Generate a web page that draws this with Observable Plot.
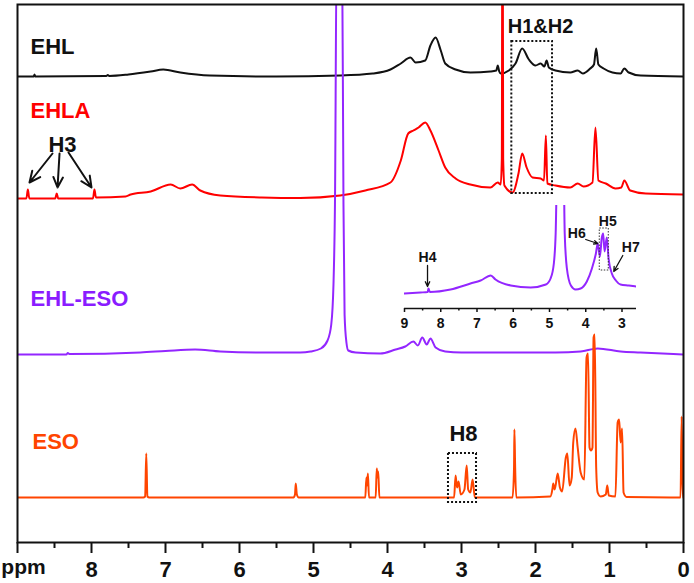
<!DOCTYPE html>
<html>
<head>
<meta charset="utf-8">
<script src="https://cdn.jsdelivr.net/npm/d3@7"></script>
<script src="https://cdn.jsdelivr.net/npm/@observablehq/plot@0.6"></script>
<style>
  body { margin: 0; background: #fff; }
  #wrap { position: relative; width: 694px; height: 583px; }
  #wrap svg { display: block; }
</style>
</head>
<body>
<div id="wrap"></div>
<script>
// ---- data: [ppm, intensity above the series baseline] ----
const seriesNames = ["EHL", "EHLA", "EHL-ESO", "ESO"];
const seriesColors = ["#111111", "#ff0000", "#9326ff", "#ff4500"];
const seriesOffsets = [466, 344, 188, 45];

const ehl = [[9,0],[8.78,0],[8.77,2],[8.76,0],[7.8,0.5],[7.78,1.5],[7.76,0.5],[7.5,2],[7.2,5],[7.03,7],[6.8,4],[6.4,1],[5.5,0],[4.64,1],[4.2,3],[3.96,7],[3.82,13],[3.69,19],[3.62,14],[3.49,16],[3.42,31],[3.35,39],[3.28,26],[3.22,13],[3.08,7],[2.88,4],[2.61,5],[2.53,6],[2.51,11],[2.49,5],[2.47,3],[2.36,6],[2.27,13],[2.18,28],[2.09,17],[2.0,11],[1.93,13],[1.88,10],[1.85,16],[1.82,9],[1.73,6],[1.53,4],[1.43,6],[1.36,3],[1.26,8],[1.21,12],[1.18,28],[1.15,12],[1.08,8],[0.96,4],[0.85,3],[0.8,8],[0.74,4],[0.58,1],[0,0]];

const ehla = [[9,0],[8.88,0],[8.86,9],[8.84,0],[8.49,0],[8.47,5],[8.45,0],[7.98,0],[7.96,9],[7.94,1],[7.54,2],[7.47,4],[7.2,7],[6.93,14],[6.8,10],[6.64,14],[6.53,8],[6.26,3],[5.7,1],[5.18,0.5],[4.64,3],[4.3,8],[3.96,16],[3.82,38],[3.72,65],[3.65,68],[3.58,71],[3.49,76],[3.42,68],[3.31,48],[3.22,31],[3.08,20],[2.88,14],[2.61,11],[2.51,16],[2.47,14],[2.455,40],[2.446,400],[2.437,40],[2.42,13],[2.31,6],[2.23,25],[2.18,45],[2.12,31],[2.04,21],[1.93,20],[1.885,18],[1.86,63],[1.84,15],[1.73,13],[1.53,11],[1.43,15],[1.35,12],[1.23,16],[1.19,71],[1.15,18],[1.05,15],[0.92,10],[0.84,11],[0.8,18],[0.72,8],[0.51,5],[0,4]];

const ehlEso = [[9,0],[8.34,0],[8.32,1.5],[8.30,0.5],[7.34,2],[7.0,3.5],[6.6,5],[6.26,3],[5.72,2],[5.18,2],[5.04,3],[4.9,6],[4.81,14],[4.76,30],[4.73,70],[4.71,150],[4.685,420],[4.615,420],[4.595,150],[4.58,40],[4.555,12],[4.53,4],[4.43,2],[4.1,1],[3.89,5],[3.76,8],[3.65,13],[3.59,9],[3.53,17],[3.47,10],[3.42,16],[3.35,7],[3.22,3],[3.0,2],[2.47,2],[2.07,2],[1.73,2],[1.39,3],[1.16,6],[0.85,3],[0.58,2],[0,0]];

const eso = [[9,0],[7.3,0],[7.275,1],[7.26,44],[7.245,1],[7.22,0],[5.27,0],[5.25,3],[5.24,14],[5.225,3],[5.2,0],[4.30,0],[4.285,20],[4.275,12],[4.265,24],[4.25,0],[4.16,0],[4.145,29],[4.135,20],[4.125,26],[4.11,0],[3.1,0],[3.08,22],[3.06,10],[3.04,16],[3.01,3],[2.96,8],[2.93,32],[2.91,8],[2.88,5],[2.85,18],[2.82,0],[2.31,0],[2.29,30],[2.285,68],[2.275,30],[2.26,0],[1.8,1],[1.77,9],[1.76,14],[1.74,8],[1.70,24],[1.67,10],[1.64,6],[1.59,40],[1.57,44],[1.54,12],[1.51,20],[1.49,55],[1.46,69],[1.43,50],[1.39,25],[1.34,18],[1.31,140],[1.29,144],[1.27,50],[1.25,47],[1.23,50],[1.215,160],[1.20,163],[1.18,30],[1.16,5],[1.12,1],[1.05,3],[1.03,12],[1.01,2],[0.92,1],[0.89,75],[0.87,78],[0.85,55],[0.83,69],[0.81,5],[0.77,0.5],[0.04,0],[0.025,81],[0.01,0],[0,0]];

// inset (EHL-ESO, expanded)
const insetSpectrum = [[9.0,0],[8.56,1],[8.36,1.5],[8.34,5],[8.30,1.5],[7.73,4],[7.18,10],[6.90,13],[6.62,18],[6.49,14],[6.07,8],[5.52,6],[5.10,9],[4.97,15],[4.88,30],[4.83,60],[4.79,120],[4.61,120],[4.58,60],[4.52,25],[4.41,8],[4.28,4],[4.14,5],[3.97,12],[3.83,25],[3.72,40],[3.67,50],[3.61,37],[3.56,55],[3.52,60],[3.48,42],[3.42,56],[3.37,35],[3.28,20],[3.17,13],[3.04,9],[2.81,8],[2.6,7]];

const mainTicks = [0,1,2,3,4,5,6,7,8,9];
const mainMinorTicks = [0.5,1.5,2.5,3.5,4.5,5.5,6.5,7.5,8.5];
const insetTicks = [3,4,5,6,7,8,9];
const insetMinorTicks = [3.5,4.5,5.5,6.5,7.5,8.5];

const spectra = [ehl, ehla, ehlEso, eso];

// ---- build table ----
const rows = spectra.flatMap((s, i) => s.map(([ppm, v]) => ({ppm, y: seriesOffsets[i] + v, series: seriesNames[i]})));

const FONT = "'Liberation Sans', Arial, Helvetica, sans-serif";
const bold = {fontFamily: FONT, fontWeight: "bold"};

const labels = [
  {text: "EHL", x: 8.824, y: 489, c: seriesColors[0], anchor: "start", size: 22},
  {text: "EHLA", x: 8.824, y: 425, c: seriesColors[1], anchor: "start", size: 22},
  {text: "EHL-ESO", x: 8.824, y: 237, c: "#8a1cff", anchor: "start", size: 22},
  {text: "ESO", x: 8.797, y: 94, c: seriesColors[3], anchor: "start", size: 22},
  {text: "H3", x: 8.392, y: 391, c: "#111", anchor: "middle", size: 22},
  {text: "H1&H2", x: 1.932, y: 510, c: "#111", anchor: "middle", size: 20},
  {text: "H8", x: 2.973, y: 102, c: "#111", anchor: "middle", size: 22}
];
const h3Arrows = [
  {x1: 8.527, y1: 389, x2: 8.838, y2: 360},
  {x1: 8.432, y1: 389, x2: 8.459, y2: 355},
  {x1: 8.311, y1: 390, x2: 8.0, y2: 355}
];
const boxes = [
  {x1: 2.32, x2: 1.77, y1: 349, y2: 501},
  {x1: 3.176, x2: 2.797, y1: 40, y2: 89}
];

const main = Plot.plot({
  width: 694, height: 583,
  marginLeft: 17, marginRight: 11, marginTop: 4, marginBottom: 41,
  x: {domain: [9, 0]},
  y: {domain: [0, 538], axis: null},
  color: {domain: seriesNames, range: seriesColors},
  style: {fontFamily: FONT, background: "white", overflow: "visible"},
  marks: [
    ...seriesNames.map(name => Plot.line(rows.filter(r => r.series === name), {
      x: "ppm", y: "y", stroke: "series", strokeWidth: 2, curve: "monotone-x", clip: true
    })),
    Plot.rect(boxes, {x1: "x1", x2: "x2", y1: "y1", y2: "y2", fill: "none", stroke: "#111", strokeWidth: 2, strokeDasharray: "2,2"}),
    Plot.arrow(h3Arrows, {x1: "x1", y1: "y1", x2: "x2", y2: "y2", stroke: "#111", strokeWidth: 2, headLength: 9, headAngle: 50}),
    ...labels.map(l => Plot.text([l], {x: "x", y: "y", text: "text", fill: l.c, fontSize: l.size, textAnchor: l.anchor, lineAnchor: "bottom", ...bold})),
    Plot.frame({stroke: "#111", strokeWidth: 2}),
    Plot.axisX(mainTicks, {tickSize: 11, tickPadding: 8, strokeWidth: 2, stroke: "#111", fill: "#111", fontSize: 22, ...bold, tickFormat: d => d === 9 ? "" : String(d), label: null}),
    Plot.axisX(mainMinorTicks, {tickSize: 6, strokeWidth: 2, stroke: "#111", tickFormat: () => "", label: null}),
    Plot.text(["ppm"], {x: 9, y: 0, dx: 6, dy: 31, text: d => d, fill: "#111", fontSize: 21, lineAnchor: "bottom", textAnchor: "middle", ...bold})
  ]
});

// ---- inset ----
const insetRows = insetSpectrum.map(([ppm, v]) => ({ppm, v}));
const insetLabels = [
  {text: "H4", x: 8.365, y: 32},
  {text: "H5", x: 3.392, y: 68},
  {text: "H6", x: 4.249, y: 56},
  {text: "H7", x: 2.757, y: 42}
];
const insetArrows = [
  {x1: 8.365, y1: 28, x2: 8.365, y2: 7},
  {x1: 4.0, y1: 54, x2: 3.669, y2: 50},
  {x1: 2.978, y1: 38, x2: 3.227, y2: 22}
];
const insetBoxes = [{x1: 3.613, x2: 3.365, y1: 23, y2: 65}];

const inset = Plot.plot({
  width: 252, height: 143,
  marginLeft: 10, marginRight: 10, marginTop: 10, marginBottom: 30,
  x: {domain: [9, 2.6]},
  y: {domain: [-15, 88], axis: null},
  style: {fontFamily: FONT, background: "transparent", overflow: "visible"},
  marks: [
    Plot.line(insetRows, {x: "ppm", y: "v", stroke: seriesColors[2], strokeWidth: 2, curve: "monotone-x", clip: true}),
    Plot.rect(insetBoxes, {x1: "x1", x2: "x2", y1: "y1", y2: "y2", fill: "none", stroke: "#333", strokeWidth: 1, strokeDasharray: "1.5,1.5"}),
    Plot.arrow(insetArrows, {x1: "x1", y1: "y1", x2: "x2", y2: "y2", stroke: "#111", strokeWidth: 1.3, headLength: 6, headAngle: 50}),
    Plot.text(insetLabels, {x: "x", y: "y", text: "text", fill: "#111", fontSize: 14, lineAnchor: "bottom", textAnchor: "middle", ...bold}),
    Plot.ruleY([-15], {stroke: "#111", strokeWidth: 1.5}),
    Plot.axisX(insetTicks, {tickSize: 4, tickPadding: 6, strokeWidth: 1.5, stroke: "#111", fill: "#111", fontSize: 14, ...bold, label: null}),
    Plot.axisX(insetMinorTicks, {tickSize: 2.5, strokeWidth: 1.5, stroke: "#111", tickFormat: () => "", label: null})
  ]
});
inset.style.position = "absolute";
inset.style.left = "394px";
inset.style.top = "195px";

const wrap = document.getElementById("wrap");
wrap.appendChild(main);
wrap.appendChild(inset);
</script>
</body>
</html>
